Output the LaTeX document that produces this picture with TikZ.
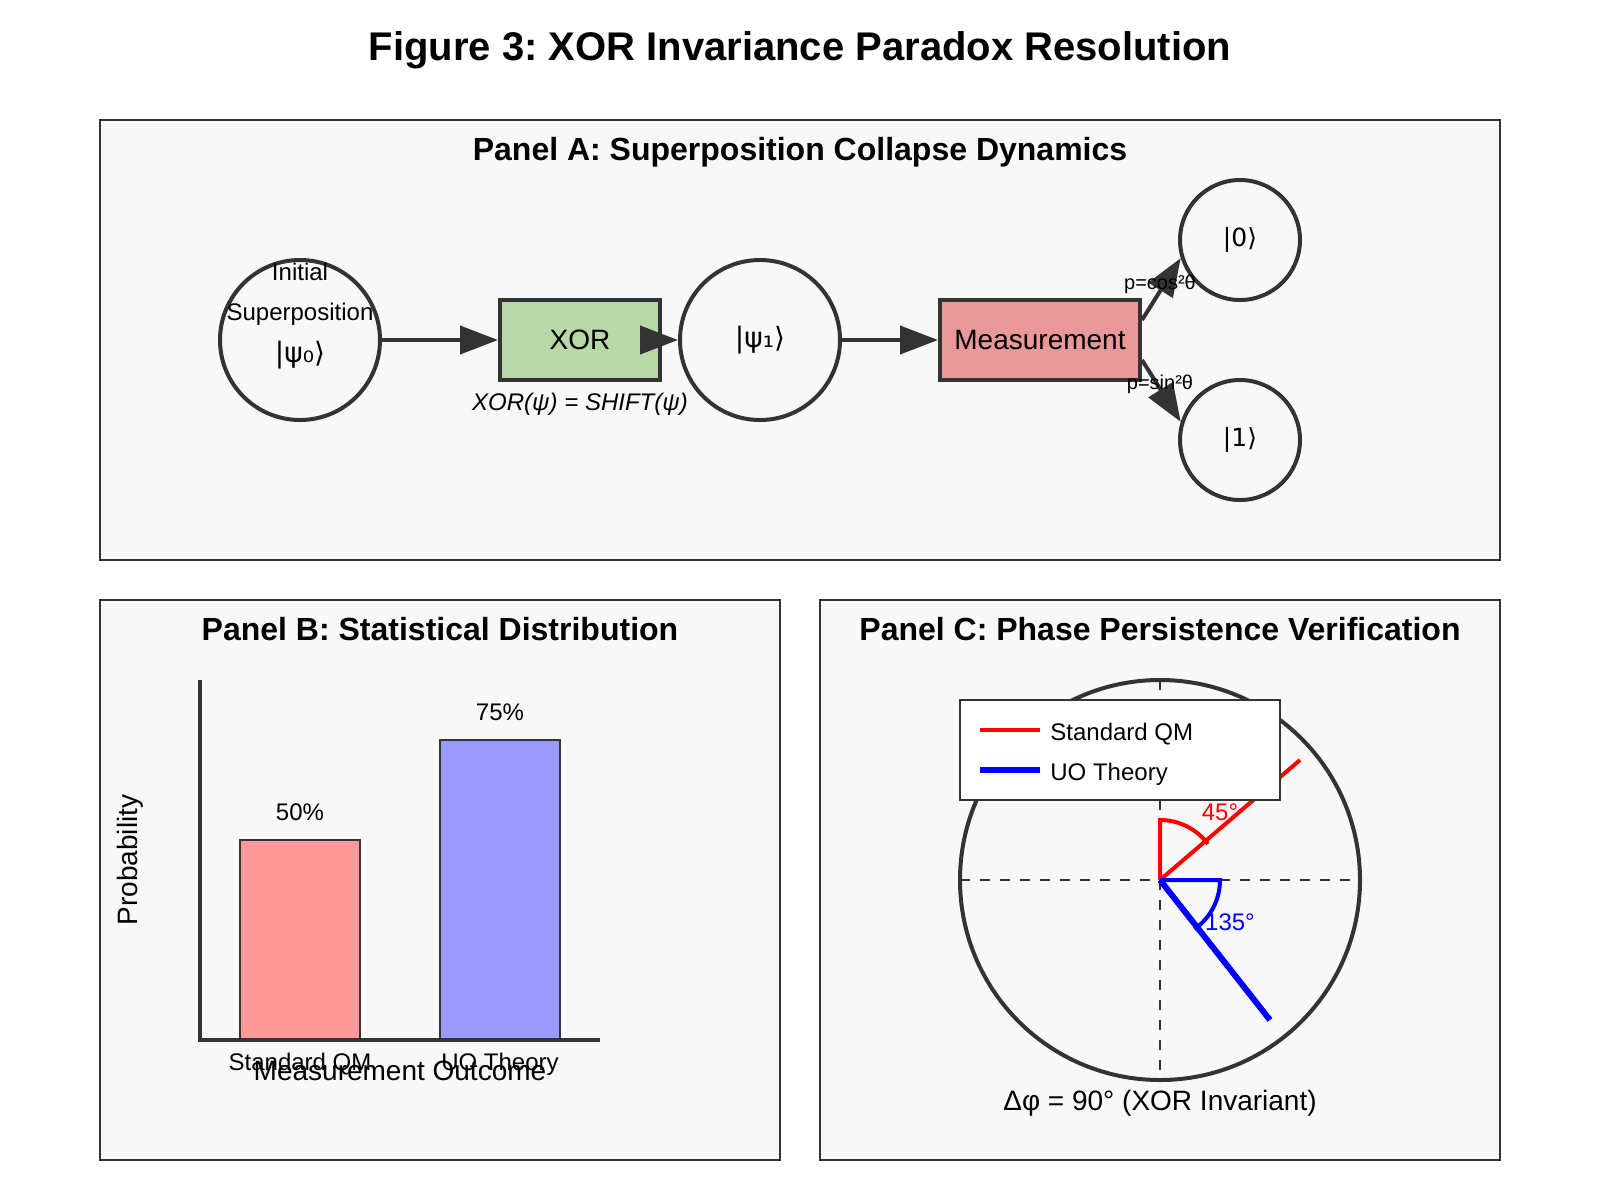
\documentclass[tikz,border=0pt]{standalone}
\usepackage{fontspec}
\setmainfont{Liberation Sans}
\newfontfamily\ketfont{DejaVu Sans}
\usetikzlibrary{arrows.meta}
\definecolor{darkline}{HTML}{333333}
\definecolor{panelbg}{HTML}{F8F8F8}
\definecolor{xorgreen}{HTML}{B8D8A8}
\definecolor{measred}{HTML}{E89898}
\definecolor{barred}{HTML}{FF9999}
\definecolor{barblue}{HTML}{9999FF}
\newcommand{\fsz}[1]{\fontsize{#1}{#1}\selectfont}
\frenchspacing
\begin{document}
\begin{tikzpicture}[x=1pt,y=-1pt,
	panel/.style={draw=darkline, line width=1pt, fill=panelbg},
	state/.style={circle, draw=darkline, line width=2pt, inner sep=0pt, minimum size=#1},
	state/.default=80pt,
	gate/.style={rectangle, draw=darkline, line width=2pt, inner sep=0pt, minimum height=40pt, font=\fsz{14}},
	flow/.style={draw=darkline, line width=2pt, -{Triangle[length=19pt,width=14pt]}},
	paneltitle/.style={anchor=base, font=\fsz{16}\bfseries},
	small/.style={anchor=base, font=\fsz{12}}]
	\useasboundingbox[fill=white] (0,0) rectangle (800,600);
	
	\node[anchor=base, font=\fsz{20}\bfseries] (title) at (400,30) {Figure 3: XOR Invariance Paradox Resolution};
	
	%Panel A
	\draw[panel] (50,60) rectangle (750,280);
	\node[paneltitle] (titleA) at (400,80) {Panel A: Superposition Collapse Dynamics};
	
	\node (init) at (150,170) [state]{};
	\node[small] (init1) at (150,140) {Initial};
	\node[small] (init2) at (150,160) {Superposition};
	\node[anchor=base, font=\fsz{14}\ketfont] (init3) at (150,181) {|ψ₀⟩};
	
	\node (xor) at (290,170) [gate, minimum width=80pt, fill=xorgreen]{XOR};
	\node[small, font=\fsz{12}\itshape] (xorlabel) at (290,205) {XOR(ψ) = SHIFT(ψ)};
	
	\node (psi1) at (380,170) [state, font=\fsz{14}\ketfont]{|ψ₁⟩};
	\node (meas) at (520,170) [gate, minimum width=100pt, fill=measred]{Measurement};
	
	\node (ket0) at (620,120) [state=60pt, font=\fsz{12.5}\ketfont]{|0⟩};
	\node (ket1) at (620,220) [state=60pt, font=\fsz{12.5}\ketfont]{|1⟩};
	
	%Panel A links
	\draw[flow] (init) -- (xor);
	\draw[flow] (xor) -- (psi1);
	\draw[flow] (psi1) -- (meas);
	\draw[flow] ([yshift=10pt]meas.east) -- (ket0.197);
	\draw[flow] ([yshift=-10pt]meas.east) -- (ket1.163);
	\node[font=\fsz{10}] (pcos) at (580,142) {p=cos²θ};
	\node[font=\fsz{10}] (psin) at (580,192) {p=sin²θ};
	
	%Panel B
	\draw[panel] (50,300) rectangle (390,580);
	\node[paneltitle] (titleB) at (220,320) {Panel B: Statistical Distribution};
	
	\filldraw[fill=barred, draw=darkline, line width=1pt] (120,420) rectangle (180,520);
	\filldraw[fill=barblue, draw=darkline, line width=1pt] (220,370) rectangle (280,520);
	\draw[darkline, line width=2pt] (100,340) -- (100,520) -- (300,520);
	\node[small] (val1) at (150,410) {50\%};
	\node[small] (val2) at (250,360) {75\%};
	\node[small] (bar1) at (150,535) {Standard QM};
	\node[small] (bar2) at (250,535) {UO Theory};
	\node[anchor=base, font=\fsz{14}] (xaxis) at (200,540) {Measurement Outcome};
	\node[rotate=90, font=\fsz{14}] (yaxis) at (65,430) {Probability};
	
	%Panel C
	\draw[panel] (410,300) rectangle (750,580);
	\node[paneltitle] (titleC) at (580,320) {Panel C: Phase Persistence Verification};
	
	\draw[darkline, line width=2pt] (580,440) circle[radius=100pt];
	\draw[darkline, line width=1pt, dash pattern=on 5pt off 5pt] (480,440) -- (680,440);
	\draw[darkline, line width=1pt, dash pattern=on 5pt off 5pt] (580,340) -- (580,540);
	
	\draw[red, line width=2pt] (580,440) -- (650,380);
	\draw[red, line width=2pt] (580,440) -- (580,410) arc[start angle=90, end angle=37, radius=30pt];
	\draw[blue, line width=3pt] (580,440) -- (635,510);
	\draw[blue, line width=2pt] (580,440) -- (610,440) arc[start angle=0, end angle=-55, radius=30pt];
	\node[font=\fsz{12}, text=red] (ang1) at (610,406) {45°};
	\node[font=\fsz{12}, text=blue] (ang2) at (615,461) {135°};
	
	%legend
	\draw[darkline, line width=1pt, fill=white] (480,350) rectangle (640,400);
	\draw[red, line width=2pt] (490,365) -- (520,365);
	\draw[blue, line width=3pt] (490,385) -- (520,385);
	\node[anchor=base west, inner sep=0pt, font=\fsz{12}] (leg1) at (525,370) {Standard QM};
	\node[anchor=base west, inner sep=0pt, font=\fsz{12}] (leg2) at (525,390) {UO Theory};
	
	\node[anchor=base, font=\fsz{14}] (delta) at (580,555) {Δφ = 90° (XOR Invariant)};
\end{tikzpicture}
\end{document}
